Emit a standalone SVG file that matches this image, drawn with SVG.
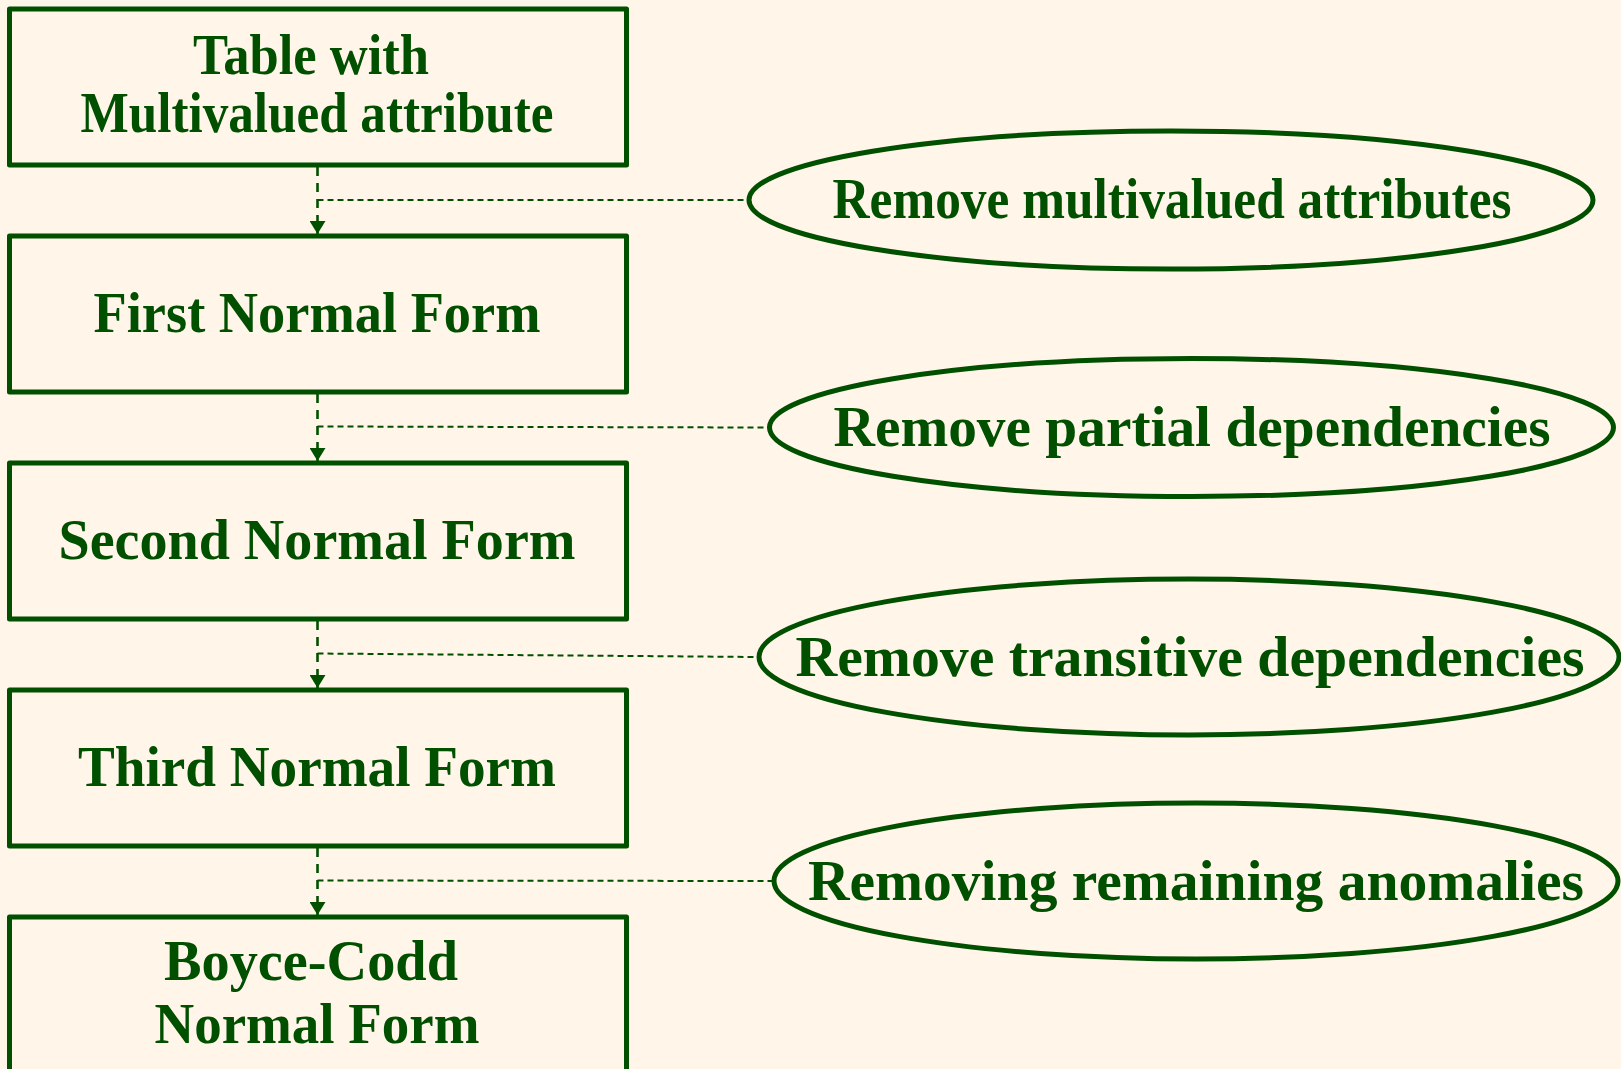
<svg xmlns="http://www.w3.org/2000/svg" width="1621" height="1069" viewBox="0 0 1621 1069">
<style>
.bg{fill:#FFF5E9}
.box{fill:none;stroke:#005000;stroke-width:5;stroke-linejoin:round}
.ell{fill:none;stroke:#005000;stroke-width:5}
.t{font-family:"Liberation Serif","Times New Roman",serif;font-weight:bold;fill:#005000;text-anchor:middle;font-size:56px}
.flow{fill:none;stroke:#005000;stroke-width:2.6;stroke-dasharray:9,7}
.side{fill:none;stroke:#005000;stroke-width:2;stroke-dasharray:6,4}
</style>
<defs>
<marker id="ah" viewBox="0 0 13 16" refX="13" refY="8" markerWidth="13" markerHeight="16" markerUnits="userSpaceOnUse" orient="auto">
<path d="M0,0 L13,8 L0,16 Z" fill="#005000"/>
</marker>
</defs>
<rect class="bg" x="0" y="0" width="1621" height="1069"/>
<g id="connectors">
<line class="flow" x1="317.5" y1="167" x2="317.5" y2="234" marker-end="url(#ah)"/>
<line class="flow" x1="317.5" y1="394" x2="317.5" y2="461" marker-end="url(#ah)"/>
<line class="flow" x1="317.5" y1="621" x2="317.5" y2="688" marker-end="url(#ah)"/>
<line class="flow" x1="317.5" y1="848" x2="317.5" y2="915" marker-end="url(#ah)"/>
<line class="side" x1="317.5" y1="200" x2="749" y2="200"/>
<line class="side" x1="317.5" y1="426.5" x2="770" y2="427.5"/>
<line class="side" x1="317.5" y1="653.5" x2="759" y2="657"/>
<line class="side" x1="317.5" y1="880.5" x2="774" y2="881"/>
</g>
<g id="n1">
<rect class="box" x="9.5" y="9" width="617" height="156"/>
<text class="t" x="311" y="74" textLength="236" lengthAdjust="spacingAndGlyphs">Table with</text>
<text class="t" x="317" y="132" textLength="473" lengthAdjust="spacingAndGlyphs">Multivalued attribute</text>
</g>
<g id="n2">
<rect class="box" x="9.5" y="236" width="617" height="156"/>
<text class="t" x="317" y="332" textLength="447" lengthAdjust="spacingAndGlyphs">First Normal Form</text>
</g>
<g id="n3">
<rect class="box" x="9.5" y="463" width="617" height="156"/>
<text class="t" x="317" y="559" textLength="517" lengthAdjust="spacingAndGlyphs">Second Normal Form</text>
</g>
<g id="n4">
<rect class="box" x="9.5" y="690" width="617" height="156"/>
<text class="t" x="317" y="786" textLength="478" lengthAdjust="spacingAndGlyphs">Third Normal Form</text>
</g>
<g id="n5">
<rect class="box" x="9.5" y="917" width="617" height="156"/>
<text class="t" x="311" y="980" textLength="294" lengthAdjust="spacingAndGlyphs">Boyce-Codd</text>
<text class="t" x="317" y="1043" textLength="325" lengthAdjust="spacingAndGlyphs">Normal Form</text>
</g>
<g id="e1">
<ellipse class="ell" cx="1171" cy="200" rx="422" ry="69"/>
<text class="t" x="1172" y="218" textLength="679" lengthAdjust="spacingAndGlyphs">Remove multivalued attributes</text>
</g>
<g id="e2">
<ellipse class="ell" cx="1191.5" cy="427.5" rx="422" ry="69"/>
<text class="t" x="1192" y="446" textLength="717" lengthAdjust="spacingAndGlyphs">Remove partial dependencies</text>
</g>
<g id="e3">
<ellipse class="ell" cx="1189" cy="657" rx="430" ry="78"/>
<text class="t" x="1190" y="676" textLength="789" lengthAdjust="spacingAndGlyphs">Remove transitive dependencies</text>
</g>
<g id="e4">
<ellipse class="ell" cx="1196" cy="881" rx="422" ry="78"/>
<text class="t" x="1196" y="900" textLength="776" lengthAdjust="spacingAndGlyphs">Removing remaining anomalies</text>
</g>
</svg>
